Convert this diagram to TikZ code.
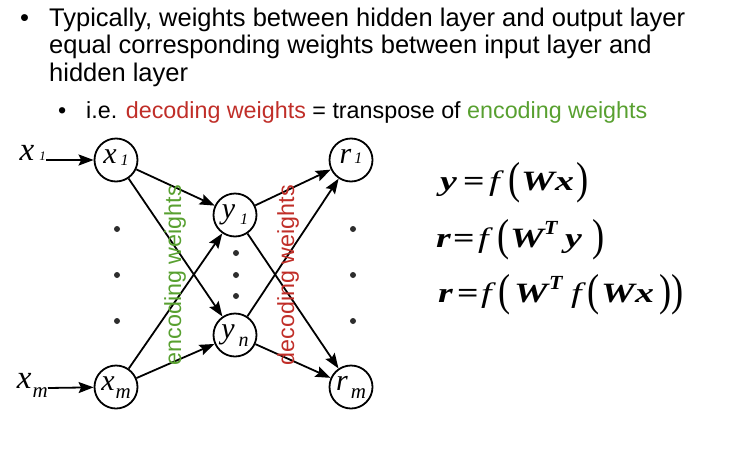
\documentclass[tikz,border=0pt]{standalone}
\usepackage{fontspec}
\usepackage{graphicx}
\setmainfont{Liberation Sans}
\newfontfamily\serifface{Liberation Serif}
\usetikzlibrary{arrows.meta}

\definecolor{encgreen}{RGB}{88,160,48}
\definecolor{decred}{RGB}{192,46,40}
\definecolor{dotgray}{RGB}{45,45,45}

% neuron label: letter, subscript, subscript shift, gap, subscript size
\newcommand\nlab[5]{{\serifface\fontsize{30}{30}\selectfont\itshape #1\hspace{#4}\raisebox{#3}{\fontsize{#5}{#5}\selectfont #2}}}
% outer input label (slightly larger letter)
\newcommand\inlab[5]{{\serifface\fontsize{33}{33}\selectfont\itshape #1\hspace{#4}\raisebox{#3}{\fontsize{#5}{#5}\selectfont #2}}}

% equation pieces (glyphs set wide)
\newcommand\eqtok[2]{\makebox[#1pt][l]{#2}}
\newcommand\eqbi[1]{\scalebox{1.35}[1]{\bfseries\itshape #1}}
\newcommand\eqfn{\scalebox{1.35}[1]{\itshape f}}
\newcommand\eqeq{\scalebox{1.35}[1]{\bfseries =}}
\newcommand\eqlp{\raisebox{-3pt}{\scalebox{1.3}[1.6]{(}}}
\newcommand\eqrp{\raisebox{-3pt}{\scalebox{1.3}[1.6]{)}}}
\newcommand\eqsupT{\raisebox{13pt}{\fontsize{20}{20}\selectfont\scalebox{1.1}[1]{\bfseries\itshape T}}}

\begin{document}
\begin{tikzpicture}[x=1pt,y=-1pt,
  neuron/.style={circle, draw, line width=1.8pt, minimum size=43pt, inner sep=0pt,
                 text height=11pt, text depth=4pt},
  conn/.style={line width=1.8pt, -{Stealth[length=15pt,width=11pt,inset=2.5pt]}},
  dotmark/.style={circle, fill=dotgray, minimum size=6pt, inner sep=0pt},
  maintext/.style={anchor=base west, inner sep=0pt, font=\fontsize{25.5}{30}\selectfont},
  subtext/.style={anchor=base west, inner sep=0pt, font=\fontsize{23.3}{28}\selectfont},
  sidelabel/.style={rotate=90, inner sep=0pt, font=\fontsize{23.3}{28}\selectfont},
  eqline/.style={anchor=base west, inner sep=0pt, font=\serifface\fontsize{28}{28}\selectfont},
  inlabel/.style={anchor=base east, inner sep=0pt}
]
\useasboundingbox (0,0) rectangle (730,466);

% bullet text
\node[maintext] (b1) at (20,26) {•};
\node[maintext] (t1) at (49,26) {Typically, weights between hidden layer and output layer};
\node[maintext] (t2) at (49,53.5) {equal corresponding weights between input layer and};
\node[maintext] (t3) at (49,81) {hidden layer};
\node[subtext] (b2) at (58,118) {•};
\node[subtext] (t4) at (86,118) {i.e. {\color{decred}decoding weights} = transpose of {\color{encgreen}encoding weights}};

% neurons
\node[neuron] (x1) at (116,160) {\nlab{x}{1}{-2pt}{4pt}{16}};
\node[neuron] (xm) at (116,387) {\nlab{x}{m}{-8pt}{1pt}{21}};
\node[neuron] (y1) at (235,215) {\nlab{y}{1}{-6pt}{5pt}{16}};
\node[neuron] (yn) at (235,335) {\nlab{y}{n}{-8pt}{4pt}{20}};
\node[neuron] (r1) at (351,160) {\nlab{r}{1}{0pt}{3pt}{16}};
\node[neuron] (rm) at (351,387) {\nlab{r}{m}{-8pt}{3pt}{21}};

% input labels
\node[inlabel] (in1) at (46,160) {\inlab{x}{1}{0pt}{5pt}{13}};
\node[inlabel] (inm) at (48,388) {\inlab{x}{m}{-9pt}{1pt}{21}};

% connections
\draw[conn] (in1.base east) -- (x1);
\draw[conn] (inm.base east) -- (xm);
\draw[conn] (x1) -- (y1);
\draw[conn] (x1) -- (yn);
\draw[conn] (xm) -- (y1);
\draw[conn] (xm) -- (yn);
\draw[conn] (y1) -- (r1);
\draw[conn] (y1) -- (rm);
\draw[conn] (yn) -- (r1);
\draw[conn] (yn) -- (rm);

% ellipsis dots
\node[dotmark] (d1) at (117,229) {};
\node[dotmark] (d2) at (117,275) {};
\node[dotmark] (d3) at (117,321) {};
\node[dotmark] (d4) at (236,253) {};
\node[dotmark] (d5) at (236,275) {};
\node[dotmark] (d6) at (236,296) {};
\node[dotmark] (d7) at (353,229) {};
\node[dotmark] (d8) at (353,275) {};
\node[dotmark] (d9) at (353,321) {};

% weight labels
\node[sidelabel, text=encgreen] (enc) at (175,275) {encoding weights};
\node[sidelabel, text=decred] (dec) at (288,275) {decoding weights};

% equations
\node[eqline] (eq1) at (440,190) {\eqtok{23}{\eqbi{y}}\eqtok{26}{\eqeq}\eqtok{19}{\eqfn}\eqtok{13}{\eqlp}\eqtok{34}{\eqbi{W}}\eqtok{21}{\eqbi{x}}\eqrp};
\node[eqline] (eq2) at (436,247) {\eqtok{17}{\eqbi{r}}\eqtok{25}{\eqeq}\eqtok{19}{\eqfn}\eqtok{13}{\eqlp}\eqtok{34}{\eqbi{W}}\eqtok{21}{\eqsupT}\eqtok{27}{\eqbi{y}}\eqrp};
\node[eqline] (eq3) at (438,302) {\eqtok{19}{\eqbi{r}}\eqtok{24}{\eqeq}\eqtok{17}{\eqfn}\eqtok{16}{\eqlp}\eqtok{35}{\eqbi{W}}\eqtok{22}{\eqsupT}\eqtok{16}{\eqfn}\eqtok{14}{\eqlp}\eqtok{34}{\eqbi{W}}\eqtok{24}{\eqbi{x}}\eqtok{12}{\eqrp}\eqrp};
\end{tikzpicture}
\end{document}
